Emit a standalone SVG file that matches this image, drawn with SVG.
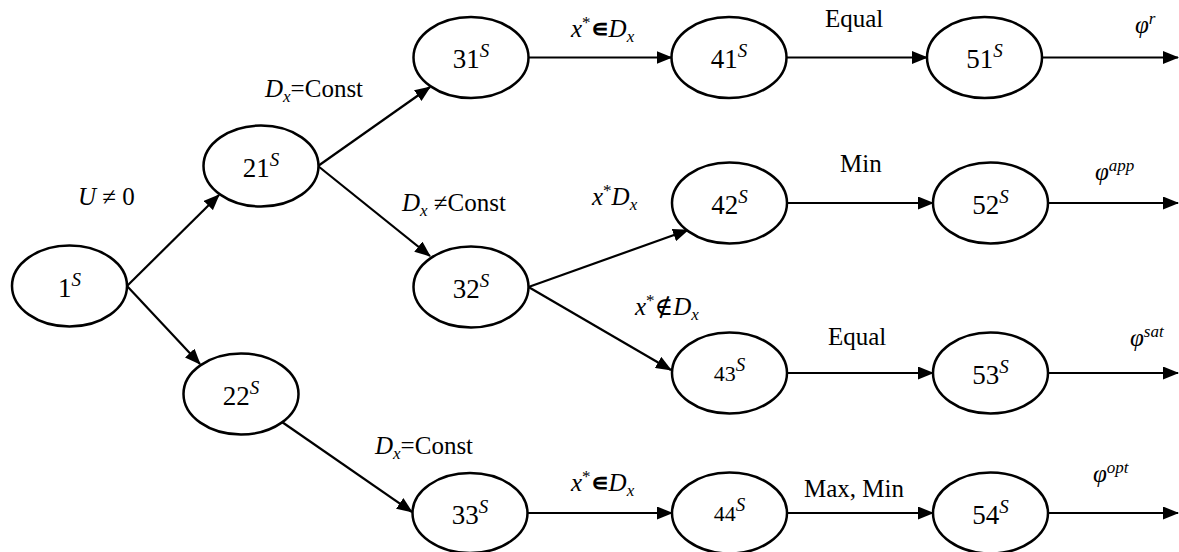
<svg xmlns="http://www.w3.org/2000/svg" width="1179" height="552" viewBox="0 0 1179 552">
<style>
.n{fill:#fff;stroke:#000;stroke-width:2.5}
.e{fill:none;stroke:#000;stroke-width:2.2}
.t{font-family:'Liberation Serif','Times New Roman',Tinos,'DejaVu Serif',serif;font-size:25px;fill:#000}
.nl{font-family:'Liberation Serif','Times New Roman',Tinos,'DejaVu Serif',serif;font-size:27px;fill:#000;text-anchor:middle}
.sm{font-size:22px}
.i{font-style:italic}
.s{font-size:17px}
.ss{font-size:19px;font-style:italic}
</style>
<defs>
<marker id="ah" viewBox="0 0 16 13" refX="15" refY="6.5" markerWidth="16" markerHeight="13" markerUnits="userSpaceOnUse" orient="auto">
<path d="M0,0 L16,6.5 L0,13 z" fill="#000"/>
</marker>
</defs>
<rect width="1179" height="552" fill="#fff"/>
<g id="connectors" class="e" marker-end="url(#ah)">
<path d="M127,286 L219,195"/>
<path d="M127,286 L200,364"/>
<path d="M318,166 L430,87"/>
<path d="M318,166 L430,256"/>
<path d="M282,422 L412,512"/>
<path d="M528.5,57.5 L671.5,57.5"/>
<path d="M786.5,57.5 L927,57.5"/>
<path d="M1042,57.5 L1178,57.5"/>
<path d="M528.5,287 L688,230"/>
<path d="M528.5,287 L671,370"/>
<path d="M787,203 L933,203"/>
<path d="M1048,203 L1178,203"/>
<path d="M787,373 L933,373"/>
<path d="M1048,373 L1178,373"/>
<path d="M527.5,513 L672,513"/>
<path d="M787,513 L933,513"/>
<path d="M1048,513 L1178,513"/>
</g>
<g id="n1"><ellipse class="n" cx="69.5" cy="286" rx="57.5" ry="40.5"/><text class="nl" x="69.5" y="297">1<tspan class="ss" dy="-11">S</tspan></text></g>
<g id="n21"><ellipse class="n" cx="261" cy="166" rx="57.5" ry="40.5"/><text class="nl" x="261" y="177">21<tspan class="ss" dy="-11">S</tspan></text></g>
<g id="n22"><ellipse class="n" cx="241" cy="394" rx="57.5" ry="40.5"/><text class="nl" x="241" y="405">22<tspan class="ss" dy="-11">S</tspan></text></g>
<g id="n31"><ellipse class="n" cx="471" cy="57.5" rx="57.5" ry="40.5"/><text class="nl" x="471" y="68">31<tspan class="ss" dy="-11">S</tspan></text></g>
<g id="n32"><ellipse class="n" cx="471" cy="287" rx="57.5" ry="40.5"/><text class="nl" x="471" y="298">32<tspan class="ss" dy="-11">S</tspan></text></g>
<g id="n33"><ellipse class="n" cx="470" cy="513" rx="57.5" ry="40"/><text class="nl" x="470" y="524">33<tspan class="ss" dy="-11">S</tspan></text></g>
<g id="n41"><ellipse class="n" cx="729" cy="57.5" rx="57.5" ry="40.5"/><text class="nl" x="729" y="68">41<tspan class="ss" dy="-11">S</tspan></text></g>
<g id="n42"><ellipse class="n" cx="729.5" cy="203" rx="57.5" ry="40.5"/><text class="nl" x="729.5" y="214">42<tspan class="ss" dy="-11">S</tspan></text></g>
<g id="n43"><ellipse class="n" cx="729.5" cy="373" rx="57.5" ry="40.5"/><text class="nl sm" x="729.5" y="381">43<tspan class="ss" dy="-10" font-size="16">S</tspan></text></g>
<g id="n44"><ellipse class="n" cx="729.5" cy="513" rx="57.5" ry="40.5"/><text class="nl sm" x="729.5" y="521">44<tspan class="ss" dy="-10" font-size="16">S</tspan></text></g>
<g id="n51"><ellipse class="n" cx="984.5" cy="57.5" rx="57.5" ry="40.5"/><text class="nl" x="984.5" y="68">51<tspan class="ss" dy="-11">S</tspan></text></g>
<g id="n52"><ellipse class="n" cx="990.5" cy="203" rx="57.5" ry="40.5"/><text class="nl" x="990.5" y="214">52<tspan class="ss" dy="-11">S</tspan></text></g>
<g id="n53"><ellipse class="n" cx="990.5" cy="373" rx="57.5" ry="40.5"/><text class="nl" x="990.5" y="384">53<tspan class="ss" dy="-11">S</tspan></text></g>
<g id="n54"><ellipse class="n" cx="990.5" cy="513" rx="57.5" ry="40.5"/><text class="nl" x="990.5" y="524">54<tspan class="ss" dy="-11">S</tspan></text></g>
<g id="labels">
<text class="t" x="265" y="97"><tspan class="i">D</tspan><tspan class="i s" dy="5">x</tspan><tspan dy="-5">=Const</tspan></text>
<text class="t" x="78" y="205"><tspan class="i">U</tspan> ≠ 0</text>
<text class="t" x="571" y="37"><tspan class="i">x</tspan><tspan class="s" dy="-9">*</tspan><tspan dy="9" font-weight="bold">∊</tspan><tspan class="i">D</tspan><tspan class="i s" dy="5">x</tspan></text>
<text class="t" x="825" y="27">Equal</text>
<text class="t" x="1135" y="33"><tspan class="i">φ</tspan><tspan class="i s" dy="-9">r</tspan></text>
<text class="t" x="402" y="211"><tspan class="i">D</tspan><tspan class="i s" dy="5">x</tspan><tspan dy="-5"> ≠Const</tspan></text>
<text class="t" x="592" y="205"><tspan class="i">x</tspan><tspan class="s" dy="-9">*</tspan><tspan class="i" dy="9">D</tspan><tspan class="i s" dy="5">x</tspan></text>
<text class="t" x="840" y="172">Min</text>
<text class="t" x="1095" y="180"><tspan class="i">φ</tspan><tspan class="i s" dy="-9">app</tspan></text>
<text class="t" x="635" y="315"><tspan class="i">x</tspan><tspan class="s" dy="-9">*</tspan><tspan dy="9">∉</tspan><tspan class="i">D</tspan><tspan class="i s" dy="5">x</tspan></text>
<text class="t" x="828" y="345">Equal</text>
<text class="t" x="1130" y="346"><tspan class="i">φ</tspan><tspan class="i s" dy="-9">sat</tspan></text>
<text class="t" x="375" y="454"><tspan class="i">D</tspan><tspan class="i s" dy="5">x</tspan><tspan dy="-5">=Const</tspan></text>
<text class="t" x="571" y="491"><tspan class="i">x</tspan><tspan class="s" dy="-9">*</tspan><tspan dy="9" font-weight="bold">∊</tspan><tspan class="i">D</tspan><tspan class="i s" dy="5">x</tspan></text>
<text class="t" x="804" y="497">Max, Min</text>
<text class="t" x="1093" y="482"><tspan class="i">φ</tspan><tspan class="i s" dy="-9">opt</tspan></text>
</g>
</svg>
